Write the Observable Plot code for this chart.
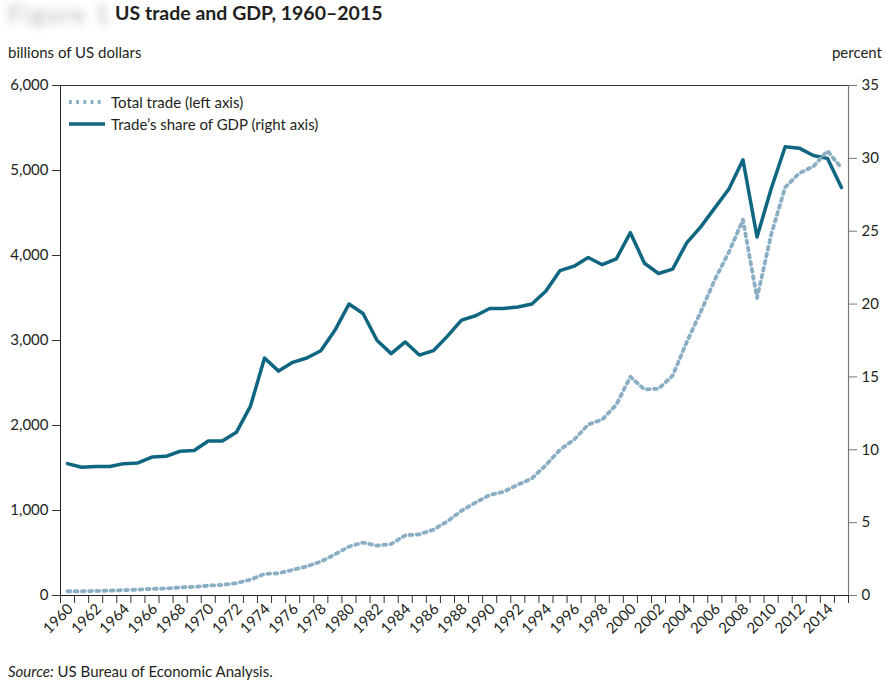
<!DOCTYPE html>
<html>
<head>
<meta charset="utf-8">
<script src="https://cdn.jsdelivr.net/npm/d3@7"></script>
<script src="https://cdn.jsdelivr.net/npm/@observablehq/plot@0.6"></script>
<style>
  body { margin: 0; background: #fff; font-family: Lato, "Open Sans", sans-serif; color: #231f20; }
  #wrap { position: relative; width: 886px; height: 683px; overflow: hidden; }
  .abs { position: absolute; white-space: nowrap; }
  #fig { left: 8px; top: -1px; font-size: 24px; font-weight: bold; color: #c4c4c4; filter: blur(4px); letter-spacing: 2px; }
  #title { left: 115px; top: 1px; font-size: 19.5px; font-weight: bold; }
  #ylab { left: 8px; top: 43px; font-size: 15px; }
  #ylab2 { right: 4px; top: 43px; font-size: 15px; }
  #src { left: 8px; top: 662px; font-size: 15px; }
  #chart { left: 0; top: 70px; }
  #legend { left: 68px; top: 91px; font-size: 15px; }
  #legend div { display: flex; align-items: center; height: 22px; }
  #legend svg { margin-right: 6px; }
</style>
</head>
<body>
<div id="wrap">
  <div class="abs" id="fig">Figure 1</div>
  <div class="abs" id="title">US trade and GDP, 1960–2015</div>
  <div class="abs" id="ylab">billions of US dollars</div>
  <div class="abs" id="ylab2">percent</div>
  <div class="abs" id="chart"></div>
  <div class="abs" id="legend"></div>
  <div class="abs" id="src"><i>Source:</i> US Bureau of Economic Analysis.</div>
</div>
<script>
const years = d3.range(1960, 2016);
// Total trade, billions of US dollars (left axis)
const totalTrade = [50, 50, 54, 57, 63, 69, 78, 83, 95, 102,
  116, 125, 145, 187, 254, 261, 301, 342, 399, 483,
  575, 623, 586, 606, 708, 720, 774, 873, 998, 1094,
  1182, 1221, 1304, 1377, 1535, 1716, 1833, 2011, 2070, 2245,
  2573, 2424, 2433, 2586, 2980, 3337, 3717, 4040, 4420, 3500,
  4243, 4802, 4968, 5047, 5230, 5030];
// Trade's share of GDP, percent (right axis)
const tradeShare = [9.05, 8.8, 8.85, 8.85, 9.05, 9.1, 9.5, 9.55, 9.9, 9.95,
  10.6, 10.6, 11.2, 13.0, 16.3, 15.4, 16.0, 16.3, 16.8, 18.2,
  20.0, 19.35, 17.5, 16.6, 17.4, 16.5, 16.8, 17.8, 18.9, 19.2,
  19.7, 19.7, 19.8, 20.0, 20.9, 22.3, 22.6, 23.2, 22.7, 23.1,
  24.9, 22.8, 22.1, 22.4, 24.2, 25.3, 26.6, 27.9, 29.9, 24.6,
  27.9, 30.8, 30.7, 30.2, 30.0, 28.0];
const leftTicks = [0, 1000, 2000, 3000, 4000, 5000, 6000];
const rightTicks = [0, 5, 10, 15, 20, 25, 30, 35];
const labelYears = d3.range(1960, 2016, 2);
const seriesNames = ["Total trade (left axis)", "Trade\u2019s share of GDP (right axis)"];

const LEFT_MAX = 6000, RIGHT_MAX = 35;
const toLeft = p => p * LEFT_MAX / RIGHT_MAX;
const data = years.map((y, i) => ({year: y, trade: totalTrade[i], share: tradeShare[i]}));
const tradeColor = "#8aaec4";
const shareColor = "#0f6680";
const dots = "2.8,4.4";

const chart = Plot.plot({
  width: 886,
  height: 580,
  marginTop: 15,
  marginBottom: 55,
  marginLeft: 60,
  marginRight: 38,
  style: {fontFamily: "Lato, 'Open Sans', sans-serif", fontSize: "15px", color: "#231f20", background: "white"},
  x: {type: "linear", domain: [1959.5, 2015.5]},
  y: {domain: [0, LEFT_MAX]},
  marks: [
    Plot.ruleY([LEFT_MAX], {stroke: "#333", strokeWidth: 1}),
    Plot.ruleX([2015.5], {stroke: "#777", strokeWidth: 1.2}),
    Plot.ruleX([1959.5], {stroke: "#222", strokeWidth: 1}),
    Plot.ruleY([0], {stroke: "#222", strokeWidth: 1}),
    Plot.axisY(leftTicks, {anchor: "left", tickSize: 8, tickPadding: 4, tickFormat: d3.format(","), label: null, stroke: "#333"}),
    Plot.axisY(rightTicks.map(toLeft), {anchor: "right", tickSize: 8, tickPadding: 5, tickFormat: d => Math.round(d * RIGHT_MAX / LEFT_MAX), label: null, stroke: "#777"}),
    Plot.axisX(d3.range(1959.5, 2016, 1), {anchor: "bottom", tickSize: 8, tickFormat: () => "", label: null, stroke: "#333"}),
    Plot.axisX(labelYears, {anchor: "bottom", tickSize: 0, tickPadding: 11, tickRotate: -45, tickFormat: d3.format("d"), label: null, dx: 3}),
    Plot.line(data, {x: "year", y: d => toLeft(d.share), stroke: shareColor, strokeWidth: 3.5}),
    Plot.line(data, {x: "year", y: "trade", stroke: tradeColor, strokeWidth: 3.8, strokeDasharray: dots})
  ]
});
document.getElementById("chart").appendChild(chart);

const legend = document.getElementById("legend");
legend.innerHTML = `
  <div><svg width="37" height="6"><line x1="1" x2="37" y1="3" y2="3" stroke="${tradeColor}" stroke-width="3.8" stroke-dasharray="${dots}"/></svg>${seriesNames[0]}</div>
  <div><svg width="37" height="6"><line x1="1" x2="37" y1="3" y2="3" stroke="${shareColor}" stroke-width="3.5"/></svg>${seriesNames[1]}</div>`;
</script>
</body>
</html>
